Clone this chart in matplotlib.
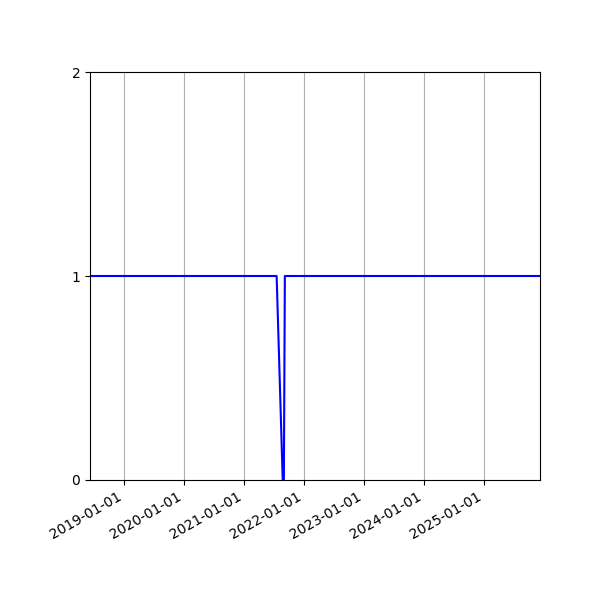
import matplotlib
matplotlib.use("Agg")
import matplotlib.pyplot as plt
import matplotlib.dates as mdates
import numpy as np

# status series
dates = np.array(["2018-06-08", "2021-07-18", "2021-08-24", "2021-08-31",
                  "2021-09-06", "2025-12-07"], dtype="datetime64[D]")
values = [1, 1, 0, 0, 1, 1]

fig, ax = plt.subplots(figsize=(6, 6), dpi=100)
ax.plot(dates, values, color="blue", linewidth=1.5)

ax.set_xlim(dates[0], dates[-1])
ax.set_ylim(0, 2)
ax.set_yticks([0, 1, 2])
ax.xaxis.set_major_locator(mdates.YearLocator())
ax.xaxis.set_major_formatter(mdates.DateFormatter("%Y-%m-%d"))
ax.grid(True, axis="x", color="#b0b0b0")

fig.autofmt_xdate()
fig.subplots_adjust(left=0.15, right=0.9, top=0.88, bottom=0.2)
fig.savefig("out.png")
